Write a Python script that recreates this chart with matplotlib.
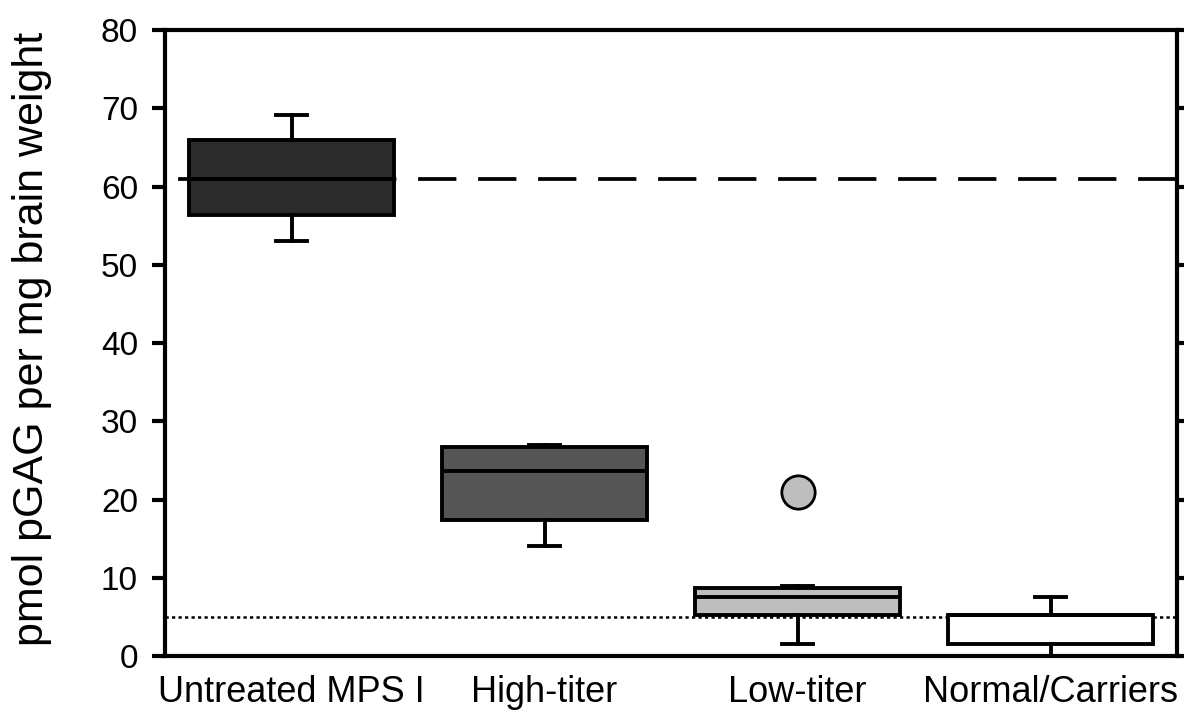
import matplotlib
matplotlib.use("Agg")
import matplotlib.pyplot as plt

plt.rcParams['font.family'] = ['Liberation Sans', 'DejaVu Sans']

# box summaries per group (pmol pGAG / mg brain weight)
groups = ["Untreated MPS I", "High-titer", "Low-titer", "Normal/Carriers"]
q1 = [56.3, 17.4, 5.3, 1.6]
med = [61.0, 23.7, 7.5, 5.2]
q3 = [65.9, 26.7, 8.7, 5.2]
whislo = [53.1, 14.0, 1.6, 0.0]
whishi = [69.1, 27.0, 8.9, 7.6]
fliers = [[], [], [20.9], []]
colors = ["#2b2b2b", "#555555", "#bebebe", "#ffffff"]

untreated_mean = 61.0   # dashed reference
normal_cutoff = 5.0     # dotted reference

stats = []
for i in range(len(groups)):
    stats.append({'label': groups[i], 'q1': q1[i], 'med': med[i], 'q3': q3[i],
                  'whislo': whislo[i], 'whishi': whishi[i], 'fliers': fliers[i]})

fig = plt.figure(figsize=(11.84, 7.13), dpi=100)
ax = fig.add_axes([0.1394, 0.0799, 0.8547, 0.878])

lw = 2.8
bp = ax.bxp(stats, positions=[1, 2, 3, 4], widths=0.81, capwidths=0.12,
            patch_artist=True, showfliers=True,
            boxprops=dict(linewidth=lw, edgecolor='black'),
            medianprops=dict(color='black', linewidth=lw),
            whiskerprops=dict(color='black', linewidth=lw),
            capprops=dict(color='black', linewidth=lw),
            flierprops=dict(marker='o', markersize=24, markerfacecolor='#bebebe',
                            markeredgecolor='black', markeredgewidth=2))
for patch, c in zip(bp['boxes'], colors):
    patch.set_facecolor(c)

ax.axhline(untreated_mean, color='black', linewidth=2.7,
           linestyle=(12.5, (10.2, 5.8)), zorder=5)
ax.axhline(normal_cutoff, color='black', linewidth=1.8,
           linestyle=(0, (1.3, 1.3)), zorder=1)

ax.set_xlim(0.5, 4.5)
ax.set_ylim(0, 80)
ax.set_yticks(range(0, 81, 10))

for s in ax.spines.values():
    s.set_linewidth(3)

ax.tick_params(axis='y', direction='out', length=9.5, width=3, pad=10,
               labelsize=24, right=True)
ax.tick_params(axis='x', length=0, pad=14, labelsize=26)

fig.text(0.027, 0.525, "pmol pGAG per mg brain weight", rotation=90,
         ha='center', va='center', fontsize=31)

fig.savefig("out.png", dpi=100)
